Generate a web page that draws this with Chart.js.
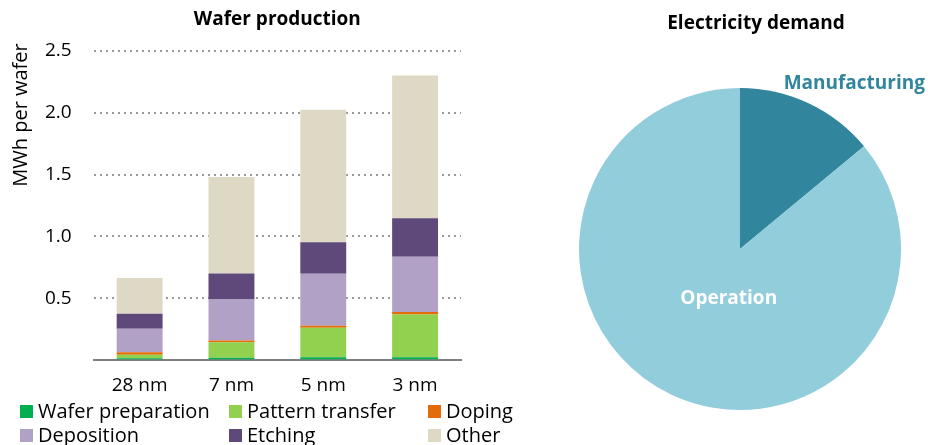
<!DOCTYPE html>
<html>
<head>
<meta charset="utf-8">
<script src="https://cdn.jsdelivr.net/npm/chart.js@4.4.1/dist/chart.umd.min.js"></script>
<style>
  html,body{margin:0;padding:0;background:#fff;}
  body{width:928px;height:445px;position:relative;overflow:hidden;font-family:"Open Sans",sans-serif;}
  #bar{position:absolute;left:0;top:0;}
  #pie{position:absolute;left:560px;top:0;}
  #legend{position:absolute;left:20px;top:399px;display:grid;grid-template-columns:209px 199px auto;row-gap:0px;font-size:20px;color:#000;line-height:24px;}
  .li{display:flex;align-items:center;white-space:nowrap;}
  .sw{width:13px;height:13px;margin-right:5px;flex:none;}
</style>
</head>
<body>
<canvas id="bar" width="480" height="403"></canvas>
<canvas id="pie" width="368" height="445"></canvas>
<div id="legend"></div>
<script>
// ---- data ----
const categories = ['28 nm', '7 nm', '5 nm', '3 nm'];
const waferPreparation = [0.015, 0.02, 0.023, 0.023];
const patternTransfer  = [0.03, 0.125, 0.24, 0.347];
const doping           = [0.02, 0.015, 0.016, 0.02];
const deposition       = [0.19, 0.33, 0.42, 0.446];
const etching          = [0.12, 0.21, 0.255, 0.31];
const other            = [0.29, 0.78, 1.07, 1.155];
const seriesNames  = ['Wafer preparation', 'Pattern transfer', 'Doping', 'Deposition', 'Etching', 'Other'];
const seriesColors = ['#00B050', '#92D050', '#E36C09', '#B2A1C7', '#5F497A', '#DDD9C4'];
const yTicks = [0, 0.5, 1.0, 1.5, 2.0, 2.5];
const yAxisTitle = 'MWh per wafer';

const pieLabels = ['Manufacturing', 'Operation'];
const pieValues = [14, 86];
const pieColors = ['#31859C', '#92CDDC'];

const FONT = '"Open Sans", sans-serif';

// ---- bar chart ----
const seriesValues = [waferPreparation, patternTransfer, doping, deposition, etching, other];
const yTitlePlugin = {
  id: 'yTitle',
  afterDraw(chart) {
    const ctx = chart.ctx;
    ctx.save();
    ctx.translate(21, 115);
    ctx.rotate(-Math.PI / 2);
    ctx.textAlign = 'center'; ctx.textBaseline = 'middle';
    ctx.fillStyle = '#000';
    ctx.font = '20px ' + FONT;
    ctx.fillText(yAxisTitle, 0, 0);
    ctx.restore();
  }
};
new Chart(document.getElementById('bar'), {
  type: 'bar',
  data: {
    labels: categories,
    datasets: seriesNames.map((n, i) => ({
      label: n, data: seriesValues[i], backgroundColor: seriesColors[i],
      borderWidth: 0, barPercentage: 0.5, categoryPercentage: 1.0
    }))
  },
  options: {
    responsive: false, animation: false,
    layout: {padding: {left: 23, right: 19, top: 0, bottom: 0}},
    plugins: {
      legend: {display: false}, tooltip: {enabled: false},
      title: {display: true, text: 'Wafer production', fullSize: false, color: '#000',
        font: {family: FONT, size: 19, weight: 'bold'}, padding: {top: 8, bottom: 20}}
    },
    scales: {
      x: {
        stacked: true,
        grid: {display: false},
        border: {display: true, color: '#7f7f7f', width: 2},
        ticks: {color: '#000', font: {family: FONT, size: 19}, padding: 6}
      },
      y: {
        stacked: true, min: yTicks[0], max: yTicks[yTicks.length - 1],
        afterBuildTicks: s => { s.ticks = yTicks.map(v => ({value: v})); },
        ticks: {color: '#000', font: {family: FONT, size: 19}, padding: 22,
          callback: v => v === 0 ? '' : v.toFixed(1)},
        grid: {drawTicks: false, lineWidth: 2,
          color: c => c.tick && c.tick.value === 0 ? 'rgba(0,0,0,0)' : '#9a9a9a'},
        border: {display: false, dash: [2, 4]}
      }
    }
  },
  plugins: [yTitlePlugin]
});

// ---- legend ----
const lg = document.getElementById('legend');
seriesNames.forEach((n, i) => {
  const d = document.createElement('div'); d.className = 'li';
  const s = document.createElement('span'); s.className = 'sw'; s.style.background = seriesColors[i];
  const t = document.createElement('span'); t.textContent = n;
  d.appendChild(s); d.appendChild(t); lg.appendChild(d);
});

// ---- pie chart ----
const pieText = {
  id: 'pieText',
  afterDraw(chart) {
    const ctx = chart.ctx;
    const arc = chart.getDatasetMeta(0).data[0];
    const cx = arc.x, cy = arc.y, r = arc.outerRadius;
    ctx.save();
    ctx.textAlign = 'center'; ctx.textBaseline = 'middle';
    ctx.fillStyle = '#000';
    ctx.font = 'bold 19px ' + FONT;
    ctx.fillText('Electricity demand', 196, 24);
    ctx.fillStyle = pieColors[0];
    ctx.fillText(pieLabels[0], cx + 0.71 * r, cy - 1.03 * r);
    ctx.fillStyle = '#fff';
    ctx.fillText(pieLabels[1], cx - 0.07 * r, cy + 0.31 * r);
    ctx.restore();
  }
};
new Chart(document.getElementById('pie'), {
  type: 'pie',
  data: {labels: pieLabels, datasets: [{data: pieValues, backgroundColor: pieColors, borderWidth: 0}]},
  options: {
    responsive: false, animation: false,
    layout: {padding: {left: 19, right: 27, top: 88, bottom: 35}},
    plugins: {legend: {display: false}, tooltip: {enabled: false}}
  },
  plugins: [pieText]
});
</script>
</body>
</html>
